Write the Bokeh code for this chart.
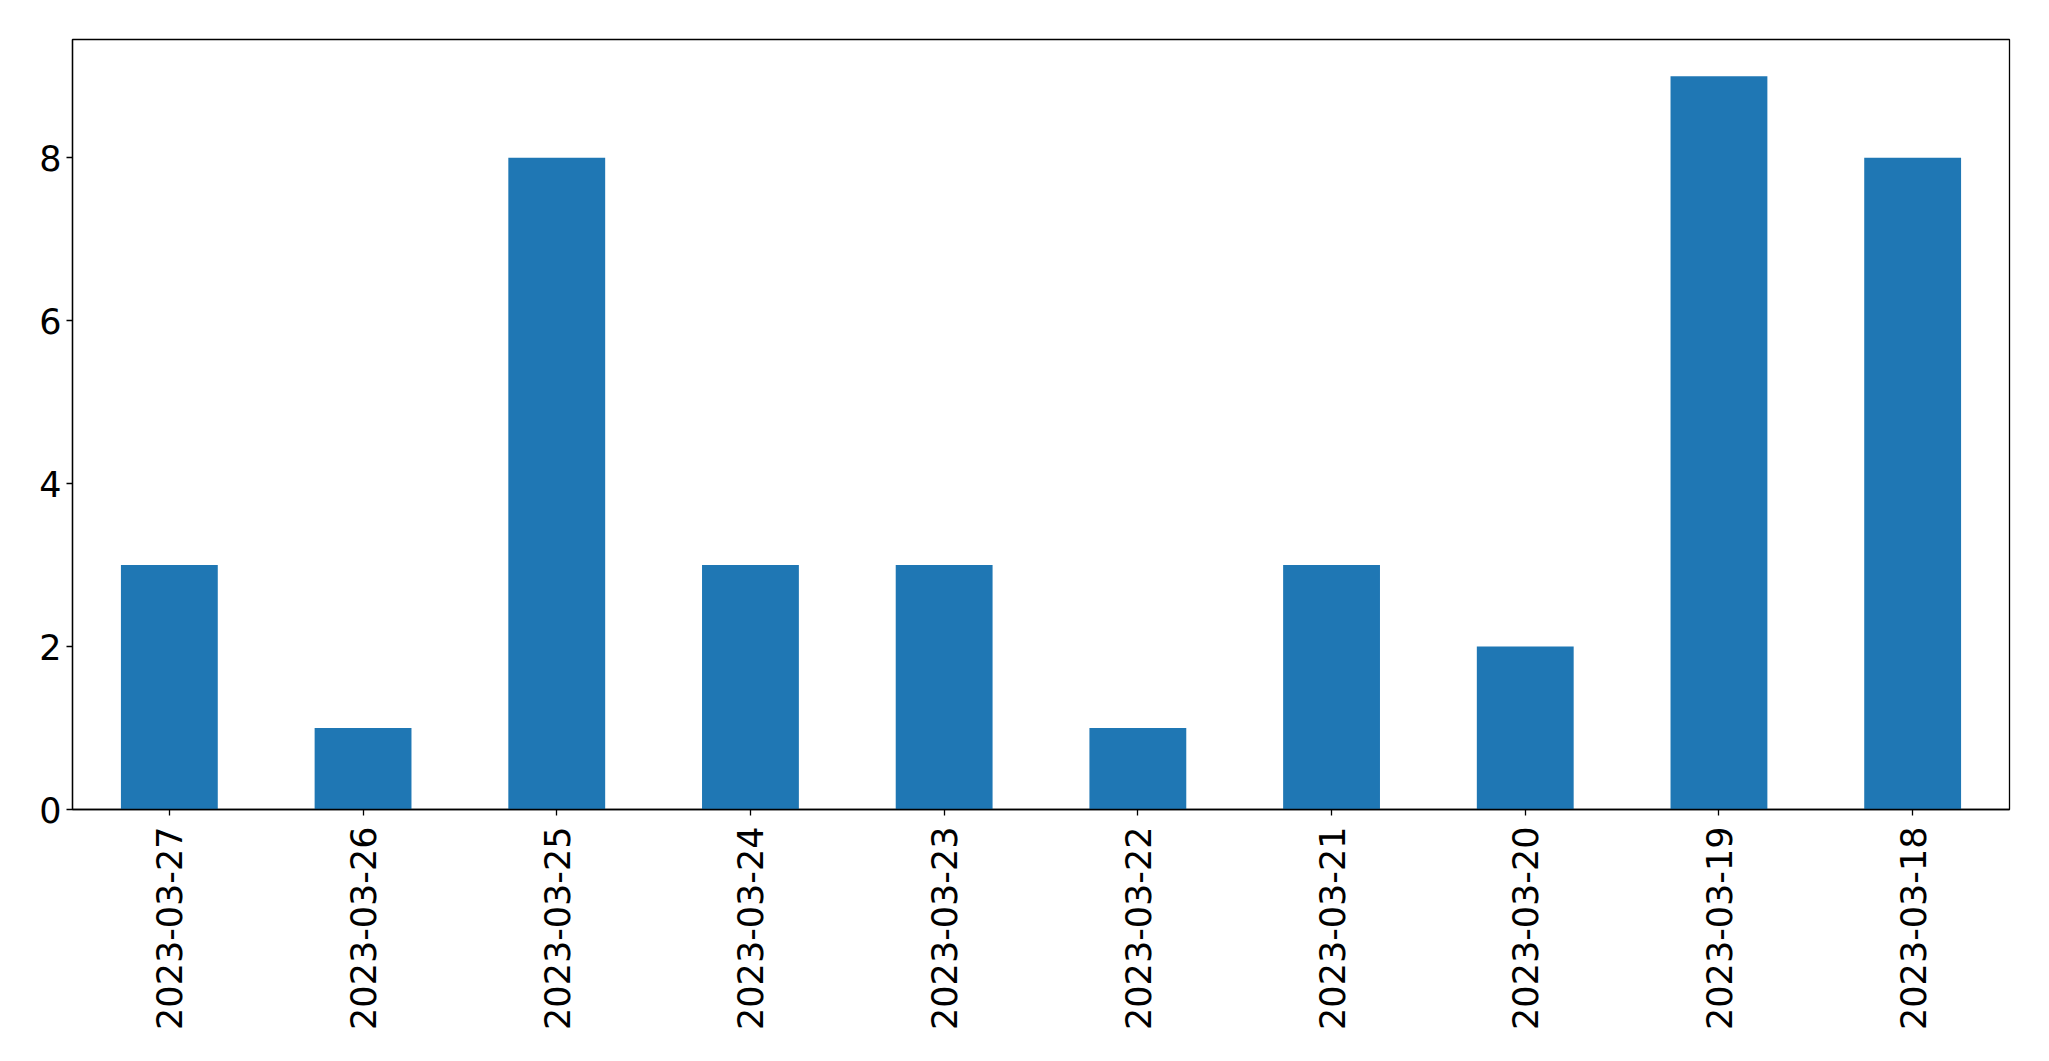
import math
from bokeh.plotting import figure
from bokeh.models import ColumnDataSource, FactorRange, Range1d, FixedTicker
from bokeh.embed import file_html
from bokeh.resources import INLINE

dates = ["2023-03-27", "2023-03-26", "2023-03-25", "2023-03-24", "2023-03-23",
         "2023-03-22", "2023-03-21", "2023-03-20", "2023-03-19", "2023-03-18"]
counts = [3, 1, 8, 3, 3, 1, 3, 2, 9, 8]
y_ticks = [0, 2, 4, 6, 8]

source = ColumnDataSource(data=dict(dates=dates, counts=counts))

p = figure(
    x_range=FactorRange(*dates, range_padding=0),
    y_range=Range1d(0, 9.45),
    width=2041, height=1053,
    output_backend="svg", toolbar_location=None,
    min_border_left=72, min_border_right=32, min_border_top=39, min_border_bottom=244,
)
p.frame_width = 1937
p.frame_height = 770

p.vbar(x="dates", top="counts", width=0.5, source=source,
       fill_color="#1f77b4", line_color=None)

p.xgrid.visible = False
p.ygrid.visible = False
p.outline_line_color = "black"
p.outline_line_width = 1.3
p.outline_line_alpha = 1

for ax in (p.xaxis[0], p.yaxis[0]):
    ax.axis_line_color = "black"
    ax.axis_line_width = 1.3
    ax.major_tick_line_color = "black"
    ax.major_tick_line_width = 1.3
    ax.major_tick_out = 6
    ax.major_tick_in = 0
    ax.minor_tick_line_color = None
    ax.major_label_text_font = "DejaVu Sans"
    ax.major_label_text_font_size = "35px"
    ax.major_label_text_color = "black"

p.yaxis[0].ticker = FixedTicker(ticks=y_ticks)
p.yaxis[0].major_label_standoff = 5
p.xaxis[0].major_label_orientation = math.pi / 2
p.xaxis[0].major_label_standoff = 11

open("out.html", "w").write(file_html(p, INLINE))
